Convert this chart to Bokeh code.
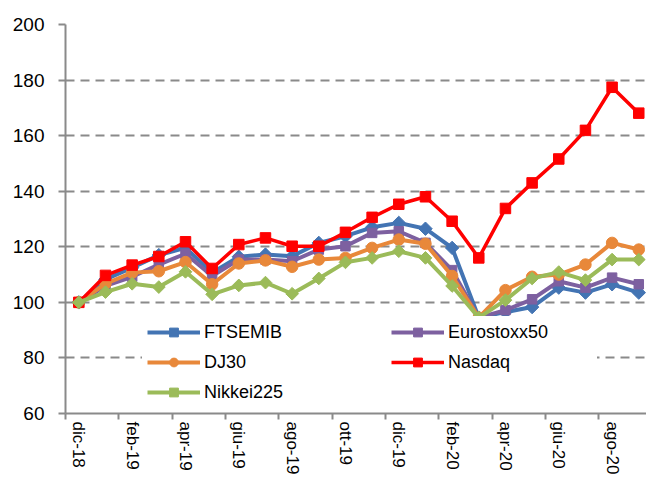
import math
from bokeh.plotting import figure
from bokeh.models import FixedTicker, Legend, LegendItem, Range1d
from bokeh.embed import file_html
from bokeh.resources import INLINE

months = ["dic-18", "gen-19", "feb-19", "mar-19", "apr-19", "mag-19", "giu-19", "lug-19",
          "ago-19", "set-19", "ott-19", "nov-19", "dic-19", "gen-20", "feb-20", "mar-20",
          "apr-20", "mag-20", "giu-20", "lug-20", "ago-20", "set-20"]

ftsemib = [100, 108.3, 112.5, 117.0, 119.6, 110.7, 116.4, 117.2, 116.6, 121.4, 123.8,
           127.0, 128.6, 126.5, 119.6, 94.5, 96.5, 98.3, 105.3, 103.5, 106.5, 103.5]
eurostoxx50 = [100, 105.9, 109.2, 113.6, 117.5, 109.5, 115.4, 115.4, 114.8, 119.0, 120.2,
               125.0, 125.6, 121.4, 111.6, 94.5, 97.2, 101.1, 107.6, 105.3, 108.9, 106.5]
dj30 = [100, 106.7, 110.7, 111.2, 114.5, 106.5, 114.0, 115.1, 112.8, 115.4, 116.0,
        119.6, 122.6, 121.1, 109.5, 94.5, 104.4, 109.2, 110.0, 113.6, 121.4, 119.0]
nasdaq = [100, 109.7, 113.4, 116.5, 121.8, 112.2, 120.8, 123.2, 120.2, 120.2, 125.2,
          130.6, 135.3, 138.0, 129.2, 116.0, 133.8, 143.0, 151.6, 161.9, 177.4, 168.1]
nikkei225 = [100, 103.7, 106.7, 105.5, 111.0, 102.9, 106.1, 107.1, 103.1, 108.6, 114.4,
             116.0, 118.4, 116.0, 105.9, 94.5, 100.8, 108.6, 110.9, 108.0, 115.4, 115.4]

y_ticks = [60, 80, 100, 120, 140, 160, 180, 200]

x = list(range(len(months)))

p = figure(width=646, height=477, output_backend="svg", toolbar_location=None,
           x_range=Range1d(-0.5, 21.29), y_range=Range1d(60, 200),
           min_border_left=65, min_border_top=24, min_border_bottom=60, min_border_right=0)
p.outline_line_color = None
p.background_fill_color = "white"

# x axis
p.xaxis.ticker = FixedTicker(ticks=[i for i in x if i % 2 == 0],
                             minor_ticks=[i - 0.5 for i in x if i % 2 == 0] + [len(months) - 0.5])
p.xaxis.major_label_overrides = {i: months[i] for i in x if i % 2 == 0}
p.xaxis.major_label_orientation = -math.pi / 2
p.xaxis.major_tick_out = 0
p.xaxis.major_tick_in = 0
p.xaxis.minor_tick_out = 6
p.xaxis.minor_tick_in = 0
p.xaxis.minor_tick_line_color = "#8a8a8a"
p.xaxis.minor_tick_line_width = 2
p.xaxis.axis_line_color = "#8a8a8a"
p.xaxis.axis_line_width = 2
p.xaxis.axis_label_standoff = 0
p.xaxis.major_label_text_font = "Liberation Sans"
p.xaxis.major_label_text_font_size = "17px"
p.xaxis.major_label_text_color = "black"
p.xaxis.major_label_standoff = 2

# y axis
p.yaxis.ticker = FixedTicker(ticks=y_ticks)
p.yaxis.minor_tick_line_color = None
p.yaxis.major_tick_out = 7
p.yaxis.major_tick_in = 0
p.yaxis.major_tick_line_color = "#8a8a8a"
p.yaxis.major_tick_line_width = 2
p.yaxis.axis_line_color = "#8a8a8a"
p.yaxis.axis_line_width = 2
p.yaxis.major_label_text_font = "Liberation Sans"
p.yaxis.major_label_text_font_size = "19px"
p.yaxis.major_label_text_color = "black"
p.yaxis.major_label_standoff = 14

p.xgrid.grid_line_color = None
p.ygrid.ticker = FixedTicker(ticks=y_ticks[1:])
p.ygrid.grid_line_color = "#8a8a8a"
p.ygrid.grid_line_width = 2
p.ygrid.grid_line_dash = "9 6"

series = [
    ("FTSEMIB", ftsemib, "#4374B3", "square", 9.5, math.pi / 4, 4),
    ("Eurostoxx50", eurostoxx50, "#7D60A0", "square", 9.5, 0, 4),
    ("DJ30", dj30, "#E8883A", "circle", 11.5, 0, 4),
    ("Nasdaq", nasdaq, "#FF0000", "square", 10.5, 0, 3.5),
    ("Nikkei225", nikkei225, "#9BBB59", "square", 9, math.pi / 4, 4),
]

items = {}
for name, vals, color, marker, size, angle, lw in series:
    l = p.line(x, vals, line_color=color, line_width=lw)
    s = p.scatter(x, vals, marker=marker, size=size, angle=angle,
                  fill_color=color, line_color=color)
    items[name] = LegendItem(label=name, renderers=[l, s])

common = dict(glyph_width=53, glyph_height=22, spacing=8, padding=5, margin=0,
              label_standoff=4, label_text_font="Liberation Sans",
              label_text_font_size="18px", label_text_color="black",
              border_line_alpha=0, background_fill_color="white", background_fill_alpha=1)

leg1 = Legend(items=[items["FTSEMIB"], items["DJ30"], items["Nikkei225"]],
              location=(77, 5), label_width=182, **common)
leg2 = Legend(items=[items["Eurostoxx50"], items["Nasdaq"]],
              location=(321, 35), label_width=144, **common)
p.add_layout(leg1, "center")
p.add_layout(leg2, "center")

open("out.html", "w").write(file_html(p, INLINE))
